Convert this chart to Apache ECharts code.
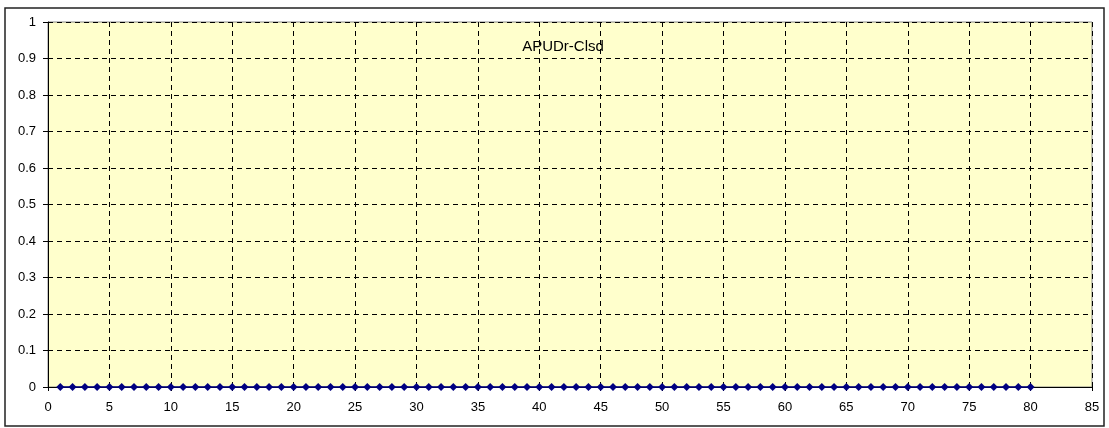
<!DOCTYPE html>
<html><head><meta charset="utf-8">
<script src="https://cdn.jsdelivr.net/npm/echarts@6/dist/echarts.min.js"></script>
<style>html,body{margin:0;padding:0;background:#fff}#c{width:1109px;height:428px}</style>
</head><body><div id="c"></div>
<script>
var title = 'APUDr-Clsd';
var xValues = [];
for (var i = 1; i <= 80; i++) xValues.push(i);
var yValues = [0,0,0,0,0,0,0,0,0,0,0,0,0,0,0,0,0,0,0,0,0,0,0,0,0,0,0,0,0,0,0,0,0,0,0,0,0,0,0,0,0,0,0,0,0,0,0,0,0,0,0,0,0,0,0,0,0,0,0,0,0,0,0,0,0,0,0,0,0,0,0,0,0,0,0,0,0,0,0,0];
var xMin = 0, xMax = 85, xStep = 5;
var yMin = 0, yMax = 1, yStep = 0.1;

var chart = echarts.init(document.getElementById('c'));
var font = 'Liberation Sans, Arial, sans-serif';
chart.setOption({
  animation: false,
  backgroundColor: '#fff',
  title: { text: title, left: 558, top: 34, textAlign: 'center',
    textStyle: { fontFamily: font, fontSize: 15, fontWeight: 'normal', color: '#000' } },
  graphic: [{ type: 'rect', shape: { x: 5, y: 8, width: 1099, height: 418 },
    style: { fill: 'none', stroke: '#222', lineWidth: 1.5 }, z: 100 }],
  grid: { left: 48, top: 22, right: 17, bottom: 41, show: true, backgroundColor: '#FFFFCC', borderColor: '#888', borderWidth: 1 },
  xAxis: { type: 'value', min: xMin, max: xMax, interval: xStep,
    axisLine: { lineStyle: { color: '#000', width: 1 } },
    axisTick: { show: true, length: 4, inside: false, lineStyle: { color: '#000' } },
    axisLabel: { fontFamily: font, fontSize: 13, color: '#000', margin: 14 },
    splitLine: { show: true, lineStyle: { color: '#000', type: [5, 4], width: 1 } } },
  yAxis: { type: 'value', min: yMin, max: yMax, interval: yStep,
    axisLine: { show: true, lineStyle: { color: '#000', width: 1 } },
    axisTick: { show: true, length: 5, lineStyle: { color: '#000' } },
    axisLabel: { fontFamily: font, fontSize: 13, color: '#000', margin: 12 },
    splitLine: { show: true, lineStyle: { color: '#000', type: [5, 4], width: 1 } } },
  series: [{ type: 'line', data: xValues.map(function (x, i) { return [x, yValues[i]]; }),
    symbol: 'diamond', symbolSize: 8, itemStyle: { color: '#000080' },
    lineStyle: { color: '#000080', width: 1.5 }, clip: false }]
});
</script></body></html>
